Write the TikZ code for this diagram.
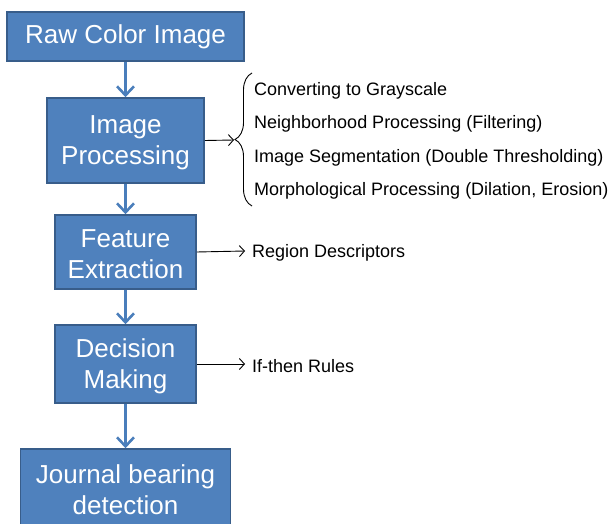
\documentclass[tikz,border=0pt]{standalone}
\usepackage{fontspec}
\setmainfont{Liberation Sans}
\usetikzlibrary{arrows.meta,decorations.pathreplacing}
\definecolor{boxfill}{HTML}{4F81BD}
\definecolor{boxedge}{HTML}{385D8A}
\definecolor{flowline}{HTML}{4A7EBB}
\tikzset{
  stage/.style={draw=boxedge, line width=1.6pt, fill=boxfill, text=white,
    align=center, inner sep=0pt, font=\fontsize{26}{31}\selectfont},
  flow/.style={draw=flowline, line width=2.6pt,
    -{Straight Barb[length=9pt,width=17pt,line width=2.6pt]}},
  note/.style={anchor=west, inner sep=0pt, font=\fontsize{18}{21}\selectfont},
  pointer/.style={draw=black, line width=0.9pt, -{Straight Barb[length=5pt,width=11pt,line width=0.9pt]}}
}
\begin{document}
\begin{tikzpicture}[x=1pt,y=-1pt]
\useasboundingbox (0,0) rectangle (614,524);
\clip (0,0) rectangle (614,524);

% main pipeline
\node[stage, minimum width=237pt, minimum height=49pt] (raw) at (125.5,36.5) {Raw Color Image};
\node[stage, minimum width=157pt, minimum height=85pt] (proc) at (125.5,140.5) {};
\node[stage, minimum width=141pt, minimum height=74pt] (feat) at (125.5,252) {};
\node[stage, minimum width=141pt, minimum height=78pt] (dec) at (125.5,364) {};
\node[stage, minimum width=210pt, minimum height=82pt] (det) at (125.5,490) {};

% box captions, set a little below centre
\node[stage, draw=none, fill=none] (proct) at (125.5,143) {Image\\Processing};
\node[stage, draw=none, fill=none] (featt) at (125.5,254) {Feature\\Extraction};
\node[stage, draw=none, fill=none] (dect) at (125.5,366) {Decision\\Making};
\node[stage, draw=none, fill=none] (dett) at (125.5,490) {Journal bearing\\detection};

\draw[flow] (raw) -- (proc);
\draw[flow] (proc) -- (feat);
\draw[flow] (feat) -- (dec);
\draw[flow] (dec) -- (det);

% image processing steps
\coordinate (btop) at (252,73);
\coordinate (bbot) at (252,206);
\draw[line width=0.9pt, decorate, decoration={brace, amplitude=17pt, raise=0pt}] (bbot) -- (btop);
\coordinate (btip) at (234,140);
\draw[pointer] (proc.east) -- (btip);

\node[note] (s1) at (254,91) {Converting to Grayscale};
\node[note] (s2) at (254,124) {Neighborhood Processing (Filtering)};
\node[note] (s3) at (254,158) {Image Segmentation (Double Thresholding)};
\node[note] (s4) at (254,191) {Morphological Processing (Dilation, Erosion)};

% outputs of the later stages
\node[note] (rd) at (252,253) {Region Descriptors};
\node[note] (ir) at (252,366) {If-then Rules};
\coordinate (rdtip) at (245,251);
\coordinate (irtip) at (245,364);
\draw[pointer] (feat.east) -- (rdtip);
\draw[pointer] (dec.east) -- (irtip);
\end{tikzpicture}
\end{document}
